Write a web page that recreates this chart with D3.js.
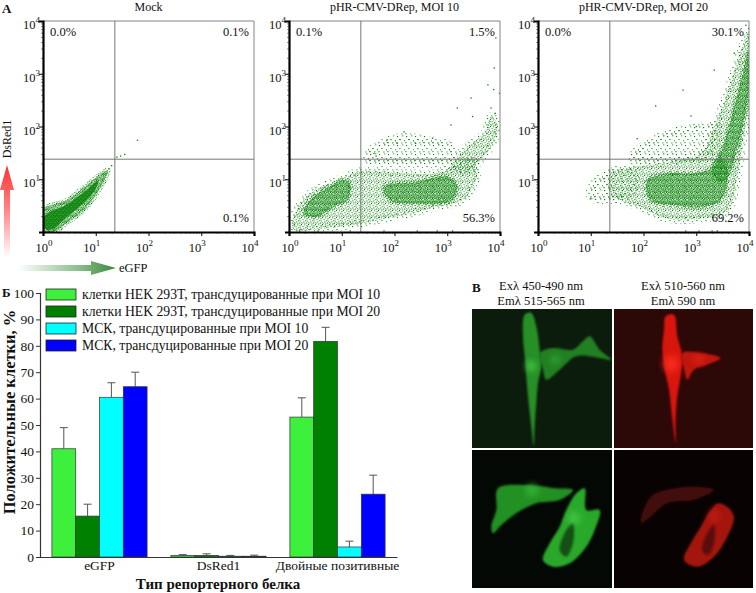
<!DOCTYPE html>
<html><head><meta charset="utf-8">
<script src="https://cdn.jsdelivr.net/npm/d3@7"></script>
<style>
body{margin:0;background:#fff}
svg{display:block}
text{font-family:"Liberation Serif","DejaVu Serif",serif;fill:#111}
</style>
</head><body>
<svg id="c" width="756" height="593"></svg>
<script>
// ---------------- DATA ----------------
// Flow cytometry panels (A)
const flowTitles = ["Mock", "pHR-CMV-DRep, MOI 10", "pHR-CMV-DRep, MOI 20"];
const quadUL = ["0.0%", "0.1%", "0.0%"];
const quadUR = ["0.1%", "1.5%", "30.1%"];
const quadLR = ["0.1%", "56.3%", "69.2%"];
const gateEGFP = 23;     // vertical gate (eGFP)
const gateDsRed = 24;    // horizontal gate (DsRed1)
const logTickExps = [0, 1, 2, 3, 4];
// Density regions, [log10 eGFP, log10 DsRed1]
const mockCore = [[0.05,0.05],[0.03,0.3],[0.45,0.52],[0.83,0.8],[1.05,0.98],[1.0,0.82],[0.83,0.6],[0.45,0.28],[0.18,0.05]];
const mockHalo = [[0.0,0.0],[0.0,0.42],[0.45,0.6],[0.83,0.89],[1.1,1.1],[1.23,1.17],[1.2,1.05],[0.83,0.47],[0.45,0.17],[0.2,0.0]];
const mockPoints = [[1.25,1.2],[1.3,1.26],[1.4,1.42],[1.47,1.44],[1.55,1.47],[1.79,1.74],[0.1,0.02],[0.2,0.03],[0.35,0.05]];

const moi10Blob = [[0.27,0.35],[0.40,0.60],[0.72,0.83],[1.03,0.98],[1.16,0.92],[1.1,0.60],[0.84,0.48],[0.53,0.29]];
const moi10Band = [[0.08,0.05],[0.08,0.29],[0.4,0.73],[0.91,0.98],[1.35,1.15],[2.11,1.12],[2.81,1.12],[3.19,1.3],[3.45,1.4],[3.57,1.11],[3.32,0.62],[2.81,0.48],[2.3,0.35],[1.67,0.22],[1.16,0.13],[0.53,0.05]];
const moi10Core = [[1.8,0.86],[2.43,0.95],[3.0,1.05],[3.19,0.86],[3.07,0.6],[2.43,0.54],[1.92,0.60]];
const moi10Tail = [[3.07,1.24],[3.38,1.62],[3.7,1.87],[3.83,2.19],[3.96,2.0],[3.83,1.62],[3.57,1.30],[3.32,1.11]];
const moi10Upper = [[1.48,1.49],[2.11,1.8],[2.56,1.76],[3.07,1.62],[3.07,1.37],[2.11,1.3],[1.48,1.37]];
const moi10Points = [[3.92,3.68],[3.89,3.11],[3.77,2.79],[3.88,2.7],[3.83,2.35],[3.91,2.25],[3.99,2.63],[3.45,2.54],[3.19,2.35],[3.48,2.19],[3.07,2.03],[2.05,1.68],[2.18,1.9],[1.86,1.75],[2.4,1.68],[2.72,1.78],[1.61,1.49],[1.65,1.44],[0.2,0.02],[0.55,0.02],[1.16,0.02],[1.8,0.02],[2.43,0.02],[2.81,0.02],[3.1,0.02]];

const moi20Main = [[2.07,0.98],[2.45,1.11],[2.96,1.11],[3.34,1.23],[3.46,1.42],[3.59,1.11],[3.46,0.6],[3.08,0.47],[2.58,0.51],[2.13,0.6]];
const moi20Tail = [[3.3,1.2],[3.5,1.6],[3.62,2.0],[3.75,2.5],[3.88,3.0],[3.97,3.4],[4.0,3.2],[3.98,2.6],[3.88,2.0],[3.75,1.5],[3.62,1.1],[3.45,0.95]];
const moi20Broad = [[1.37,1.11],[1.82,1.23],[2.58,1.35],[3.1,1.5],[3.3,1.9],[3.5,2.4],[3.7,3.0],[3.9,3.6],[4.0,3.8],[4.0,2.63],[3.89,1.74],[3.75,0.9],[3.6,0.4],[3.08,0.25],[2.45,0.25],[1.94,0.47],[1.37,0.73]];
const moi20Left = [[0.99,0.66],[1.06,0.92],[1.37,1.11],[1.82,1.11],[1.82,0.79],[1.37,0.6]];
const moi20Upper = [[1.82,1.49],[2.45,1.87],[3.08,1.99],[3.4,1.99],[3.21,1.42],[2.45,1.42],[1.82,1.36]];
const moi20Points = [[2.75,2.69],[2.23,2.39],[3.34,3.07],[3.72,3.39],[3.94,3.92],[0.99,0.63],[1.88,1.77],[3.0,2.0],[2.9,2.2],[2.8,0.02],[3.05,0.02],[3.3,0.02],[3.4,0.02]];

// Bar chart (Б)
const categories = ["eGFP", "DsRed1", "Двойные позитивные"];
const seriesNames = [
  "клетки HEK 293T, трансдуцированные при MOI 10",
  "клетки HEK 293T, трансдуцированные при MOI 20",
  "МСК, трансдуцированные при MOI 10",
  "МСК, трансдуцированные при MOI 20"
];
const hek10 = [41, 0.6, 53];
const hek10Err = [8, 0.3, 7.3];
const hek20 = [15.5, 0.6, 81.7];
const hek20Err = [4.5, 0.6, 5.3];
const msc10 = [60.5, 0.3, 3.8];
const msc10Err = [5.5, 0.3, 2.2];
const msc20 = [64.5, 0.3, 23.8];
const msc20Err = [5.5, 0.4, 7.2];
const yTicks = [0,10,20,30,40,50,60,70,80,90,100];

// Micrograph panel (B) headers
const micrographHeaders = [["Exλ 450-490 nm","Emλ 515-565 nm"],["Exλ 510-560 nm","Emλ 590 nm"]];

// ---------------- DRAW ----------------
const svg = d3.select("#c");
const defs = svg.append("defs");
const dotA = "#0a7f0a", dotB = "#2e9a2e";

function makePattern(id, size, dots, r, bg) {
  const p = defs.append("pattern").attr("id", id).attr("patternUnits","userSpaceOnUse")
    .attr("width", size).attr("height", size);
  if (bg) p.append("rect").attr("width", size).attr("height", size).attr("fill", bg);
  dots.forEach((d, k) => p.append("rect").attr("x", d[0]).attr("y", d[1]).attr("width", r).attr("height", r)
    .attr("fill", d[2] || (k % 2 ? dotB : dotA)));
}
makePattern("pSolid", 4, [[0.5,0.5,"#5fae5f"],[2.6,2.2,"#6cb86c"]], 0.8, "#158815");
makePattern("pDense", 6, [[0,0],[2,0],[3.5,0.2],[5,0.6],[1,1.2],[4.2,1.4],[0.3,2.4],[2.4,2.2],[3.3,3],[5.2,2.5],[1.4,3.4],[4.4,3.8],[0,4.5],[2.3,4.4],[3.6,4.9],[5.3,4.6],[1.2,5.3],[4.6,5.5]], 1.15);
makePattern("pMid", 7, [[0,0],[3.2,0.3],[5.4,1.2],[1.5,2.1],[4.3,3.1],[6.2,3.6],[2.3,4.4],[0.2,5.2],[5.1,5.5],[3.4,6.3],[1.1,6.6]], 1.1);
makePattern("pSparse", 9, [[1,1],[6.2,0.3],[3.4,4],[8,5.2],[0.4,7.1],[5.3,7.4]], 1.1);

// arrows gradients
const gRed = defs.append("linearGradient").attr("id","gRed").attr("x1",0).attr("y1",0).attr("x2",0).attr("y2",1);
gRed.append("stop").attr("offset","0").attr("stop-color","#ff3030");
gRed.append("stop").attr("offset","0.45").attr("stop-color","#ff8080");
gRed.append("stop").attr("offset","1").attr("stop-color","#ffffff");
const gGreen = defs.append("linearGradient").attr("id","gGreen").attr("x1",0).attr("y1",0).attr("x2",1).attr("y2",0);
gGreen.append("stop").attr("offset","0").attr("stop-color","#ffffff");
gGreen.append("stop").attr("offset","0.6").attr("stop-color","#8fbf8f");
gGreen.append("stop").attr("offset","1").attr("stop-color","#3a8a3a");

const flow = [
  {solid:[mockCore], dense:[mockHalo], mid:[], sparse:[], pts:mockPoints},
  {solid:[], dense:[moi10Blob, moi10Core], mid:[moi10Band, moi10Tail], sparse:[moi10Upper], pts:moi10Points},
  {solid:[], dense:[moi20Main, moi20Tail], mid:[moi20Broad], sparse:[moi20Left, moi20Upper], pts:moi20Points}
];
const panelLefts = [43, 289, 538];
const PW = 211, PT = 21, PB = 232;
const minorVals = d3.range(0, 4).flatMap(e => d3.range(2, 10).map(m => m * 10 ** e));

flow.forEach((f, i) => {
  const L = panelLefts[i], R = L + PW;
  const x = d3.scaleLog().domain([1, 1e4]).range([L, R]);
  const y = d3.scaleLog().domain([1, 1e4]).range([PB, PT]);
  const g = svg.append("g");
  const cid = "clip" + i;
  defs.append("clipPath").attr("id", cid).append("rect").attr("x", L).attr("y", PT).attr("width", PW).attr("height", PB - PT);
  const area = g.append("g").attr("clip-path", `url(#${cid})`);
  const line = d3.line().x(d => x(10 ** d[0])).y(d => y(10 ** d[1])).curve(d3.curveCatmullRomClosed.alpha(0.5));
  f.sparse.forEach(poly => {
    area.append("path").attr("d", line(poly)).attr("fill","url(#pSparse)")
      .attr("stroke","url(#pSparse)").attr("stroke-width",8).attr("stroke-linejoin","round");
  });
  f.mid.forEach(poly => {
    area.append("path").attr("d", line(poly)).attr("fill","url(#pMid)")
      .attr("stroke","url(#pSparse)").attr("stroke-width",8).attr("stroke-linejoin","round");
  });
  f.dense.forEach(poly => {
    area.append("path").attr("d", line(poly)).attr("fill","none")
      .attr("stroke","url(#pMid)").attr("stroke-width",5).attr("stroke-linejoin","round");
    area.append("path").attr("d", line(poly)).attr("fill","url(#pDense)");
  });
  f.solid.forEach(poly => {
    area.append("path").attr("d", line(poly)).attr("fill","url(#pSolid)");
  });
  area.selectAll("rect.pt").data(f.pts).join("rect").attr("class","pt")
    .attr("x", d => x(10 ** d[0]) - 0.6).attr("y", d => y(10 ** d[1]) - 0.6)
    .attr("width", 1.3).attr("height", 1.3).attr("fill", dotA);

  // gates
  g.append("line").attr("x1", x(gateEGFP)).attr("x2", x(gateEGFP)).attr("y1", PT).attr("y2", PB).attr("stroke","#666").attr("stroke-width",0.9);
  g.append("line").attr("x1", L).attr("x2", R).attr("y1", y(gateDsRed)).attr("y2", y(gateDsRed)).attr("stroke","#666").attr("stroke-width",0.9);
  // frame: thin top/right
  g.append("path").attr("d", `M${L},${PT}H${R}V${PB}`).attr("fill","none").attr("stroke","#777").attr("stroke-width",0.9);
  // minor ticks
  g.append("g").attr("transform", `translate(0,${PB})`)
    .call(d3.axisBottom(x).tickValues(minorVals).tickSize(2).tickFormat(""))
    .call(a => a.select(".domain").remove()).selectAll("line").attr("stroke","#444").attr("stroke-width",0.6);
  g.append("g").attr("transform", `translate(${L},0)`)
    .call(d3.axisLeft(y).tickValues(minorVals).tickSize(2).tickFormat(""))
    .call(a => a.select(".domain").remove()).selectAll("line").attr("stroke","#444").attr("stroke-width",0.6);
  // axes
  const ax = g.append("g").attr("transform", `translate(0,${PB})`)
    .call(d3.axisBottom(x).tickValues(logTickExps.map(e => 10 ** e)).tickSize(4).tickFormat(""));
  const ay = g.append("g").attr("transform", `translate(${L},0)`)
    .call(d3.axisLeft(y).tickValues(logTickExps.map(e => 10 ** e)).tickSize(4).tickFormat(""));
  [ax, ay].forEach(a => {
    a.select(".domain").attr("stroke","#000").attr("stroke-width",2.2);
    a.selectAll(".tick line").attr("stroke","#000");
  });
  // tick labels with superscripts
  logTickExps.forEach(e => {
    let cx = x(10 ** e) + (e === 0 ? 1 : -4);
    if (i === 2 && e === 4) cx = Math.min(cx, 745);
    const t = g.append("text").attr("x", cx).attr("y", 252).attr("text-anchor","middle").attr("font-size",12.5);
    t.append("tspan").text("10");
    t.append("tspan").attr("dy",-6).attr("font-size",9).text(e);
  });
  logTickExps.filter(e => e > 0).forEach(e => {
    const t = g.append("text").attr("x", L - 3).attr("y", y(10 ** e) + 8).attr("text-anchor","end").attr("font-size",12.5);
    t.append("tspan").text("10");
    t.append("tspan").attr("dy",-6).attr("font-size",9).text(e);
  });
  // title & quadrant percents
  g.append("text").attr("x", (L + R) / 2).attr("y", 11).attr("text-anchor","middle").attr("font-size",12).text(flowTitles[i]);
  g.append("text").attr("x", L + 7).attr("y", 36).attr("font-size",12.5).text(quadUL[i]);
  g.append("text").attr("x", R - 5).attr("y", 36).attr("text-anchor","end").attr("font-size",12.5).text(quadUR[i]);
  g.append("text").attr("x", R - 5).attr("y", 222).attr("text-anchor","end").attr("font-size",12.5).text(quadLR[i]);
});

// panel label A, axis names and arrows
svg.append("text").attr("x", 2).attr("y", 13).attr("font-size",13).attr("font-weight","bold").text("A");
svg.append("text").attr("transform","translate(11,139) rotate(-90)").attr("text-anchor","middle").attr("font-size",12).text("DsRed1");
svg.append("path").attr("d","M7,165 L14,190 L10,190 L10,258 L4,258 L4,190 L0,190 Z").attr("fill","url(#gRed)");
svg.append("text").attr("x", 119).attr("y", 272).attr("font-size",12.5).text("eGFP");
svg.append("path").attr("d","M18,265 L91,265 L91,261 L116,268 L91,275 L91,271 L18,271 Z").attr("fill","url(#gGreen)");

// ---------------- BAR CHART ----------------
const barSeries = [
  {name: seriesNames[0], vals: hek10, errs: hek10Err, color: "#3cf03c"},
  {name: seriesNames[1], vals: hek20, errs: hek20Err, color: "#008000"},
  {name: seriesNames[2], vals: msc10, errs: msc10Err, color: "#00ffff"},
  {name: seriesNames[3], vals: msc20, errs: msc20Err, color: "#0000ff"}
];
const bx0 = d3.scaleBand().domain(categories).range([40, 397]).paddingInner(0.2).paddingOuter(0.1);
const bx1 = d3.scaleBand().domain(d3.range(barSeries.length)).range([0, bx0.bandwidth()]);
const by = d3.scaleLinear().domain([0, 100]).range([557, 293]);
const bg = svg.append("g");
barSeries.forEach((s, si) => {
  categories.forEach((c, ci) => {
    const x0 = bx0(c) + bx1(si), w = bx1.bandwidth();
    const cx = x0 + w / 2;
    bg.append("line").attr("x1", cx).attr("x2", cx).attr("y1", by(s.vals[ci])).attr("y2", by(s.vals[ci] + s.errs[ci]))
      .attr("stroke","#555").attr("stroke-width",1);
    bg.append("line").attr("x1", cx - 4).attr("x2", cx + 4).attr("y1", by(s.vals[ci] + s.errs[ci])).attr("y2", by(s.vals[ci] + s.errs[ci]))
      .attr("stroke","#555").attr("stroke-width",1);
    bg.append("rect").attr("x", x0).attr("y", by(s.vals[ci])).attr("width", w).attr("height", by(0) - by(s.vals[ci]))
      .attr("fill", s.color).attr("stroke","#333").attr("stroke-width",0.7);
  });
});
const yAx = bg.append("g").attr("transform","translate(40,0)").call(d3.axisLeft(by).tickValues(yTicks).tickSize(4).tickPadding(2));
yAx.selectAll("text").attr("font-size",13.5).attr("font-family","Liberation Serif, serif").attr("fill","#111");
yAx.select(".domain").attr("stroke","#333").attr("stroke-width",1.2);
yAx.selectAll(".tick line").attr("stroke","#333");
const xAx = bg.append("g").attr("transform","translate(0,557)").call(d3.axisBottom(bx0).tickSize(0).tickPadding(3));
xAx.select(".domain").attr("stroke","#333").attr("stroke-width",1.2);
xAx.selectAll("text").attr("font-size",13.5).attr("font-family","Liberation Serif, serif").attr("fill","#111");
// legend
barSeries.forEach((s, si) => {
  const yy = 289 + si * 17;
  bg.append("rect").attr("x", 46).attr("y", yy).attr("width", 30).attr("height", 11).attr("fill", s.color).attr("stroke","#222").attr("stroke-width",0.8);
  bg.append("text").attr("x", 82).attr("y", yy + 10).attr("font-size",13.7).text(s.name);
});
svg.append("text").attr("x", 2).attr("y", 297).attr("font-size",13).attr("font-weight","bold").text("Б");
svg.append("text").attr("transform","translate(15,412) rotate(-90)").attr("text-anchor","middle").attr("font-size",16.5).attr("font-weight","bold").text("Положительные клетки, %");
svg.append("text").attr("x", 218).attr("y", 589).attr("text-anchor","middle").attr("font-size",15).attr("font-weight","bold").text("Тип репортерного белка");

// ---------------- MICROGRAPHS (B) ----------------
const micro = svg.append("g");
micro.append("text").attr("x", 472).attr("y", 292).attr("font-size",13).attr("font-weight","bold").text("B");
micrographHeaders.forEach((h, i) => {
  const cx = i === 0 ? 541 : 683;
  micro.append("text").attr("x", cx).attr("y", 290).attr("text-anchor","middle").attr("font-size",12.5).text(h[0]);
  micro.append("text").attr("x", cx).attr("y", 305).attr("text-anchor","middle").attr("font-size",12.5).text(h[1]);
});
const blur = defs.append("filter").attr("id","blur").attr("x","-20%").attr("y","-20%").attr("width","140%").attr("height","140%");
blur.append("feGaussianBlur").attr("stdDeviation",1.0);
const blur2 = defs.append("filter").attr("id","blur2").attr("x","-50%").attr("y","-50%").attr("width","200%").attr("height","200%");
blur2.append("feGaussianBlur").attr("stdDeviation",3.5);

const cellTL_A = [[52.7,5.7],[59.3,4],[64.3,17.3],[67.7,40.7],[69.3,57.3],[66,74],[64.3,94],[62.7,117.3],[61.7,137.3],[59.3,117.3],[56,87.3],[54.3,67.3],[52.7,47.3],[51,27.3]];
const cellTL_B = [[67.7,44],[81,39],[101,40.7],[111,32.3],[117.7,27.3],[127.7,40.7],[139.3,50.7],[127.7,49],[104.3,47.3],[87.7,60.7],[74.3,70.7],[71,60.7]];
const cellTR_A = [[51.7,7.3],[60,5.7],[63.3,27.3],[68.3,47.3],[66.7,67.3],[63.3,87.3],[61.7,110.7],[61.7,134],[58.3,110.7],[55,80.7],[50.7,60.7],[48.3,40.7],[50,20.7]];
const cellTR_B = [[68.3,44],[86.7,44],[106.7,49],[93.3,55.7],[80,60.7],[73.3,70.7],[70,60.7]];
const cellBL_A = [[26,38.3],[54.3,35],[84.3,38.3],[101,40],[87.7,50],[64.3,53.3],[44.3,63.3],[27.7,76.7],[21,83.3],[19.3,76.7],[24.3,60]];
const cellBL_B = [[71,110],[77.7,93.3],[87.7,76.7],[94.3,60],[104.3,43.3],[112.7,38.3],[114.3,60],[127.7,60],[122.7,80],[114.3,96.7],[97.7,113.3],[81,116.7]];
const holeBL = [[87.7,100],[94.3,80],[101,73.3],[101,93.3],[94.3,106.7]];
const cellBR_A = [[26.7,73.3],[36.7,46.7],[60,38.3],[86.7,36.7],[100,40],[80,50],[53.3,53.3],[36.7,66.7]];
const cellBR_B = [[70,110],[76.7,93.3],[86.7,76.7],[96.7,60],[103.3,53.3],[113.3,56.7],[120,66.7],[113.3,86.7],[100,106.7],[83.3,116.7]];
const holeBR = [[88,100],[94,82],[100,75],[100,93],[94,105]];

const images = [
  {x:472, y:309, w:140, h:139, bg:"#0c1c0c", cells:[[cellTL_A,"#258f25"],[cellTL_B,"#217f21"]], glow:[[59,57,"#55dd55",5],[83,51,"#3cbb3c",4]]},
  {x:614, y:309, w:139, h:139, bg:"#2c0807", cells:[[cellTR_A,"#d8140e"],[cellTR_B,"#bf120c"]], glow:[[57,55,"#ff3020",8],[85,50,"#e8281a",5]]},
  {x:472, y:450, w:140, h:138, bg:"#040804", cells:[[cellBL_A,"#249024"],[cellBL_B,"#2aa82a"],[holeBL,"#145014"]], glow:[[60,40,"#3fc03f",6],[102,68,"#4fd04f",6]]},
  {x:614, y:450, w:139, h:138, bg:"#080202", cells:[[cellBR_A,"#420a08"],[cellBR_B,"#a31410"],[holeBR,"#5a0c0a"]], glow:[[100,66,"#c81c16",6]]}
];
images.forEach((im, k) => {
  const gi = micro.append("g").attr("transform", `translate(${im.x},${im.y})`);
  defs.append("clipPath").attr("id","iclip"+k).append("rect").attr("width", im.w).attr("height", im.h);
  const inner = gi.append("g").attr("clip-path", `url(#iclip${k})`);
  inner.append("rect").attr("width", im.w).attr("height", im.h).attr("fill", im.bg);
  const ln = d3.line().curve(d3.curveCatmullRomClosed.alpha(0.5));
  im.cells.forEach(c => inner.append("path").attr("d", ln(c[0])).attr("fill", c[1]).attr("filter","url(#blur)"));
  im.glow.forEach(gl => inner.append("circle").attr("cx", gl[0]).attr("cy", gl[1]).attr("r", gl[3]).attr("fill", gl[2]).attr("opacity",0.75).attr("filter","url(#blur2)"));
});
</script>
</body></html>
